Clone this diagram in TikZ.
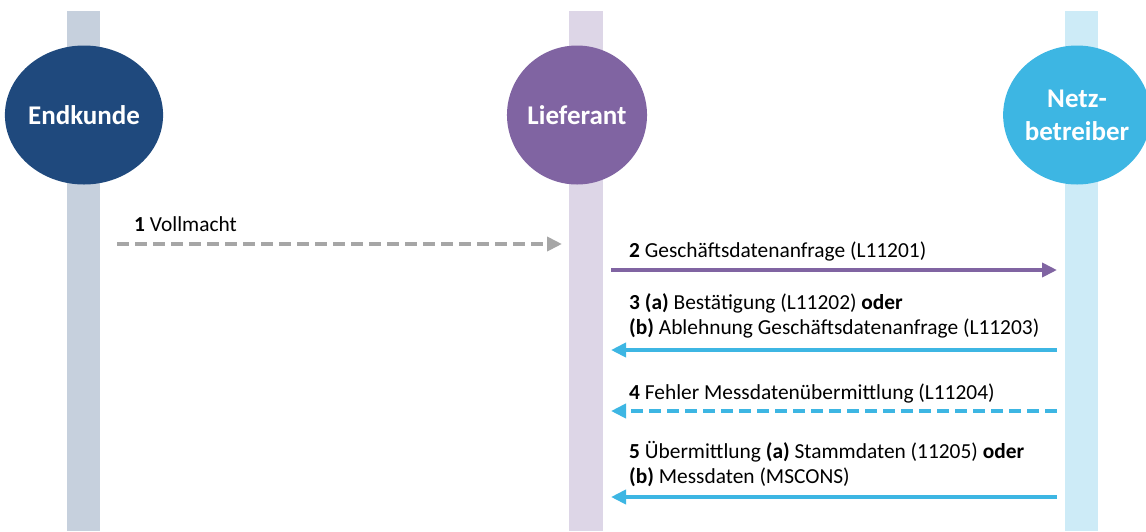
\documentclass[tikz,border=0pt]{standalone}
\usepackage{fontspec}
\setmainfont{Carlito}
\usetikzlibrary{arrows.meta,shapes.geometric}
\definecolor{ekdark}{HTML}{1F497D}
\definecolor{eklane}{HTML}{C6D0DD}
\definecolor{lfdark}{HTML}{8064A2}
\definecolor{lflane}{HTML}{DDD6E7}
\definecolor{nbdark}{HTML}{3DB6E3}
\definecolor{nblane}{HTML}{CDEBF7}
\definecolor{arrgray}{HTML}{A6A6A6}
\tikzset{
  actor/.style={ellipse, inner sep=0pt, minimum height=139pt, text=white,
    font=\fontsize{27}{32}\selectfont\bfseries, align=center},
  msg/.style={anchor=base west, inner sep=0pt, font=\fontsize{21.4}{25}\selectfont},
  arr/.style={line width=4pt, -{Triangle[length=15pt,width=14pt]}},
  dash4/.style={dash pattern=on 12pt off 6pt}
}
\begin{document}
\begin{tikzpicture}[x=1pt,y=-1pt]
\useasboundingbox (0,0) rectangle (1146,531);
% lanes
\fill[eklane] (67,11) rectangle (100,531);
\fill[lflane] (569,11) rectangle (603,531);
\fill[nblane] (1065,11) rectangle (1098,531);
% actors
\node[actor, fill=ekdark, minimum width=152pt] (ek) at (84,115) {Endkunde};
\node[actor, fill=lfdark, minimum width=132pt] (lf) at (577,115) {Lieferant};
\begin{scope}
\clip (0,0) rectangle (1146,531);
\node[actor, fill=nbdark, minimum width=140pt] (nb) at (1077,115) {Netz-\\[1pt]betreiber};
\end{scope}
% coordinates
\coordinate (a1s) at (117,244);
\coordinate (a1e) at (562,244);
\coordinate (a2s) at (611,270);
\coordinate (a2e) at (1057,270);
\coordinate (a3s) at (1057,350);
\coordinate (a3e) at (611,350);
\coordinate (a4s) at (1057,411);
\coordinate (a4e) at (611,411);
\coordinate (a5s) at (1057,497);
\coordinate (a5e) at (611,497);
% arrows
\draw[arr, arrgray, dash4] (a1s) -- (a1e);
\draw[arr, lfdark] (a2s) -- (a2e);
\draw[arr, nbdark] (a3s) -- (a3e);
\draw[arr, nbdark, dash4] (a4s) -- (a4e);
\draw[arr, nbdark] (a5s) -- (a5e);
% labels
\node[msg] (l1) at (134,231) {\textbf{1} Vollmacht};
\node[msg] (l2) at (629,257) {\textbf{2} Geschäftsdatenanfrage (L11201)};
\node[msg] (l3a) at (629,309) {\textbf{3 (a)} Bestätigung (L11202) \textbf{oder}};
\node[msg] (l3b) at (629,334) {\textbf{(b)} Ablehnung Geschäftsdatenanfrage (L11203)};
\node[msg] (l4) at (629,399) {\textbf{4} Fehler Messdatenübermittlung (L11204)};
\node[msg] (l5a) at (629,458) {\textbf{5} Übermittlung \textbf{(a)} Stammdaten (11205) \textbf{oder}};
\node[msg] (l5b) at (629,483) {\textbf{(b)} Messdaten (MSCONS)};
\end{tikzpicture}
\end{document}
